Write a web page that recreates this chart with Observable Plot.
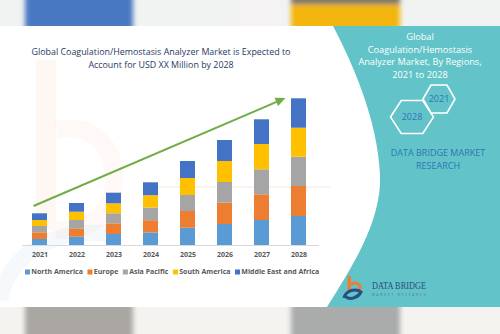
<!DOCTYPE html>
<html><head><meta charset="utf-8">
<script src="https://cdn.jsdelivr.net/npm/d3@7"></script>
<script src="https://cdn.jsdelivr.net/npm/@observablehq/plot@0.6"></script>
<style>
html,body{margin:0;padding:0;background:#fff;}
#chart{width:500px;height:334px;overflow:hidden;}
</style></head><body><div id="chart"></div>
<script>
const years = ["2021","2022","2023","2024","2025","2026","2027","2028"];
const regions = ["North America","Europe","Asia Pacific","South America","Middle East and Africa"];
const colors = ["#5B9BD5","#ED7D31","#A5A5A5","#FFC000","#4472C4"];
const northAmerica = [6.0, 8.3, 11.0, 12.5, 17.3, 21.0, 25.0, 29.0];
const europe = [6.7, 8.3, 10.7, 12.3, 16.7, 21.3, 25.7, 30.0];
const asiaPacific = [6.3, 8.4, 10.0, 12.7, 16.0, 20.7, 25.0, 29.3];
const southAmerica = [6.0, 8.3, 10.0, 12.3, 17.0, 21.0, 25.3, 29.0];
const middleEastAfrica = [6.7, 8.7, 10.6, 12.9, 17.0, 21.0, 24.7, 29.4];
const titleLines = ["Global Coagulation/Hemostasis Analyzer Market is Expected to", "Account for USD XX Million by 2028"];
const panelLines = ["Global", "Coagulation/Hemostasis", "Analyzer Market, By Regions,", "2021 to 2028"];
const hexLabels = ["2021", "2028"];
const brandLines = ["DATA BRIDGE MARKET", "RESEARCH"];
const trend = {from: "2021", to: "2028", start: 39, end: 147};

const series = [northAmerica, europe, asiaPacific, southAmerica, middleEastAfrica];
const rows = years.flatMap((y, i) => regions.map((r, j) => ({year: y, region: r, value: series[j][i]})));

const plot = Plot.plot({
  width: 500, height: 334,
  marginTop: 95, marginBottom: 89, marginLeft: 8, marginRight: 170,
  style: {background: "transparent", fontFamily: "Open Sans"},
  x: {domain: years, padding: 0.6, label: null},
  y: {domain: [0, 150], axis: null},
  color: {domain: regions, range: colors},
  marks: [
    Plot.ruleY([0], {stroke: "#d9d9d9", insetLeft: 14, insetRight: 11}),
    Plot.barY(rows, {x: "year", y: "value", fill: "region"}),
    Plot.axisX({tickSize: 0, tickPadding: 7, fontSize: 7, fontWeight: "bold", fill: "#595959", label: null})
  ]
});
document.getElementById("chart").appendChild(plot);

const svg = d3.select(plot);
const defs = svg.append("defs");
defs.append("filter").attr("id", "blur").attr("x", "-20%").attr("y", "-50%").attr("width", "140%").attr("height", "200%")
  .append("feGaussianBlur").attr("stdDeviation", 2.5);
defs.append("clipPath").attr("id", "topclip").append("rect").attr("x", 0).attr("y", 0).attr("width", 500).attr("height", 26);
defs.append("clipPath").attr("id", "botclip").append("rect").attr("x", 0).attr("y", 307).attr("width", 500).attr("height", 27);

const bg = svg.insert("g", ":first-child");
// faint watermark shapes
const wm = bg.append("g");
wm.append("rect").attr("x", 36).attr("y", 60).attr("width", 20).attr("height", 170).attr("fill", "#f4b183").attr("opacity", 0.1);
wm.append("path").attr("d", "M56,130 C100,120 125,160 110,200 C100,225 75,232 56,230").attr("fill", "none").attr("stroke", "#f4b183").attr("stroke-width", 18).attr("opacity", 0.07);
wm.append("path").attr("d", "M0,300 C10,250 60,225 120,235").attr("fill", "none").attr("stroke", "#9dc3e6").attr("stroke-width", 16).attr("opacity", 0.1);
wm.append("line").attr("x1", 150).attr("x2", 330).attr("y1", 187).attr("y2", 187).attr("stroke", "#f4b183").attr("stroke-width", 2).attr("opacity", 0.15);

// top photo band
const topBand = bg.append("g").attr("clip-path", "url(#topclip)");
topBand.append("rect").attr("x", 0).attr("y", 0).attr("width", 500).attr("height", 26).attr("fill", "#f1f2f2");
const topB = topBand.append("g").attr("filter", "url(#blur)");
topB.append("rect").attr("x", 25).attr("y", -10).attr("width", 108).attr("height", 40).attr("fill", "#4a78c2");
topB.append("rect").attr("x", 291).attr("y", -10).attr("width", 109).attr("height", 40).attr("fill", "#f2b50f");
topB.append("rect").attr("x", 291).attr("y", -10).attr("width", 109).attr("height", 14).attr("fill", "#6e7472");
topB.append("rect").attr("x", 240).attr("y", -10).attr("width", 40).attr("height", 40).attr("fill", "#f6f3f4");
// bottom photo band
const botBand = bg.append("g").attr("clip-path", "url(#botclip)");
botBand.append("rect").attr("x", 0).attr("y", 307).attr("width", 500).attr("height", 27).attr("fill", "#f4f3f0");
const botB = botBand.append("g").attr("filter", "url(#blur)");
botB.append("rect").attr("x", 25).attr("y", 300).attr("width", 108).attr("height", 45).attr("fill", "#aaa7a2");
botB.append("rect").attr("x", 291).attr("y", 300).attr("width", 109).attr("height", 45).attr("fill", "#a9acaa");

// teal panel
bg.append("path")
  .attr("d", "M333,26 L500,26 L500,307 L327,307 C350,270 382,222 380,175 C378,120 352,62 333,26 Z")
  .attr("fill", "#62c4c8");

// trend arrow, positioned through the plot's own scales
const xs = plot.scale("x"), ys = plot.scale("y");
const bw = xs.bandwidth || 0;
const ax1 = xs.apply(trend.from) + bw / 2 - 6, ay1 = ys.apply(trend.start);
const ax2 = xs.apply(trend.to) + bw / 2 - 13, ay2 = ys.apply(trend.end);
const ang = Math.atan2(ay2 - ay1, ax2 - ax1);
const hl = 10, hw = 4.5;
const bx = ax2 - hl * Math.cos(ang), by = ay2 - hl * Math.sin(ang);
const fg0 = svg.append("g");
fg0.append("line").attr("x1", ax1).attr("y1", ay1).attr("x2", bx + 1 * Math.cos(ang)).attr("y2", by + 1 * Math.sin(ang))
  .attr("stroke", "#70AD47").attr("stroke-width", 2);
fg0.append("polygon").attr("fill", "#70AD47").attr("points", [
  [ax2, ay2],
  [bx - hw * Math.sin(ang), by + hw * Math.cos(ang)],
  [bx + hw * Math.sin(ang), by - hw * Math.cos(ang)]
].map(p => p.join(",")).join(" "));

// overlay text
const fg = svg.append("g").attr("font-family", "Open Sans").attr("text-anchor", "middle");
titleLines.forEach((t, i) => fg.append("text").attr("x", 161).attr("y", 52 + i * 12.5).attr("dy", "0.35em")
  .attr("font-size", 8.9).attr("fill", "#1f3a5f").text(t));
panelLines.forEach((t, i) => fg.append("text").attr("x", 420).attr("y", 37 + i * 12.6).attr("dy", "0.35em")
  .attr("font-size", 9.2).attr("fill", "#ffffff").text(t));
const hexes = [{cx: 439, cy: 99, w: 32, h: 28}, {cx: 412, cy: 117, w: 43, h: 33}];
hexes.forEach((h, i) => {
  const pts = [[h.cx - h.w / 2, h.cy], [h.cx - h.w / 4, h.cy - h.h / 2], [h.cx + h.w / 4, h.cy - h.h / 2],
    [h.cx + h.w / 2, h.cy], [h.cx + h.w / 4, h.cy + h.h / 2], [h.cx - h.w / 4, h.cy + h.h / 2]];
  fg.append("polygon").attr("points", pts.map(p => p.join(",")).join(" ")).attr("fill", "none")
    .attr("stroke", "#ffffff").attr("stroke-width", 1.6);
  fg.append("text").attr("x", h.cx).attr("y", h.cy).attr("dy", "0.35em")
    .attr("font-size", 9).attr("fill", "#2e75b6").text(hexLabels[i]);
});
brandLines.forEach((t, i) => fg.append("text").attr("x", 438).attr("y", 153 + i * 13).attr("dy", "0.35em")
  .attr("font-size", 9).attr("fill", "#2e75b6").text(t));

// bottom logo
const logo = svg.append("g").attr("text-anchor", "start");
logo.append("rect").attr("x", 347.5).attr("y", 276).attr("width", 3.5).attr("height", 14).attr("fill", "#ee7d31");
logo.append("path").attr("d", "M351,284 C358,281 362,286 359,291").attr("fill", "none").attr("stroke", "#ee7d31").attr("stroke-width", 3);
logo.append("path").attr("d", "M344,298 C346,290 356,288 361,292 C358,298 350,300 346,297").attr("fill", "none").attr("stroke", "#2a4e82").attr("stroke-width", 3);
logo.append("text").attr("x", 372).attr("y", 289).attr("font-family", "Liberation Serif").attr("font-size", 10)
  .attr("textLength", 54).attr("lengthAdjust", "spacingAndGlyphs").attr("fill", "#2a4e82").text("DATA BRIDGE");
logo.append("text").attr("x", 372).attr("y", 296).attr("font-family", "Open Sans").attr("font-size", 3)
  .attr("textLength", 54).attr("fill", "#5a6e8c").text("MARKET RESEARCH");

// legend
const leg = svg.append("g").attr("font-family", "Open Sans").attr("text-anchor", "start")
  .attr("font-size", 7).attr("font-weight", "bold").attr("fill", "#595959");
let lx = 25;
regions.forEach((r, i) => {
  leg.append("rect").attr("x", lx).attr("y", 269.5).attr("width", 5).attr("height", 5).attr("fill", colors[i]);
  const t = leg.append("text").attr("x", lx + 6.3).attr("y", 272).attr("dy", "0.35em").text(r);
  lx += 6.3 + t.node().getComputedTextLength() + 4.5;
});
</script>
</body></html>
